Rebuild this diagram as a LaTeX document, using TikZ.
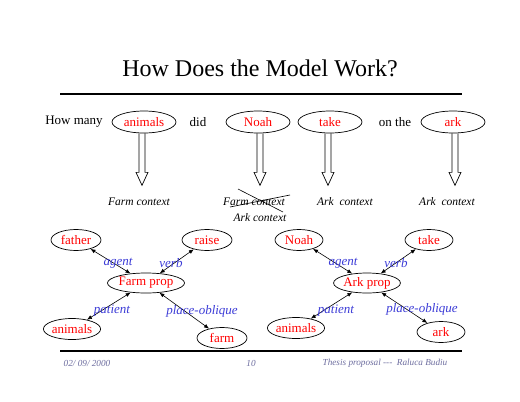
\documentclass[tikz,border=0pt]{standalone}
\usepackage{fontspec}
\setmainfont{Liberation Serif}
\usepackage{xcolor}
\usetikzlibrary{shapes.geometric,arrows.meta,calc,positioning}
\definecolor{myred}{HTML}{FF0000}
\definecolor{myblue}{RGB}{60,60,215}
\definecolor{footgray}{RGB}{110,110,160}
\tikzset{
  word/.style={ellipse,draw,line width=0.7pt,inner sep=0pt,text=myred,minimum width=64pt,minimum height=22pt,font=\fontsize{13}{15}\selectfont},
  prop/.style={ellipse,draw,line width=0.7pt,inner sep=0pt,text=myred,minimum width=50pt,minimum height=21pt,font=\fontsize{13}{15}\selectfont},
  ctx/.style={font=\fontsize{11.5}{13}\selectfont\itshape},
  role/.style={text=myblue,font=\fontsize{13}{15}\selectfont\itshape},
  link/.style={{Latex[length=5pt,width=4pt]}-{Latex[length=5pt,width=4pt]},line width=0.6pt},
  foot/.style={text=footgray,font=\fontsize{9.2}{11}\selectfont\itshape}
}
\begin{document}
\begin{tikzpicture}[x=1pt,y=-1pt]
	\useasboundingbox[fill=white] (0,0) rectangle (520,402);
	%% title and rule
	\node (title) at (260,68) {\fontsize{24}{28}\selectfont How Does the Model Work?};
	\draw[line width=1.6pt] (60,94) -- (462,94);
	%% the sentence
	\node[font=\fontsize{13}{15}\selectfont] (howmany) at (74,122) {How many};
	\node[word] (animals) at (144,122) {animals};
	\node[font=\fontsize{13}{15}\selectfont] (did) at (198,122) {did};
	\node[word] (noah) at (258,122) {Noah};
	\node[word] (take) at (330,122) {take};
	\node[font=\fontsize{13}{15}\selectfont] (onthe) at (395,122) {on the};
	\node[word] (ark) at (453,122) {ark};
	%% hollow arrows down to the contexts
	\foreach \w/\dx in {animals/-2,noah/2,take/-2,ark/2}
		\draw[line width=0.7pt] ($(\w.south)+(\dx-3,0)$) -- ++(0,39) -- ++(-3,0) -- ++(6,13) -- ++(6,-13) -- ++(-3,0) -- ++(0,-39);
	\node[ctx] (farmctx) at (139,202) {Farm context};
	\node[ctx] (farmcross) at (254,202) {Farm context};
	\node[ctx] (arkctx) at (260,218) {Ark context};
	\node[ctx] (arkctx2) at (345,202) {Ark\ \ context};
	\node[ctx] (arkctx3) at (447,202) {Ark\ \ context};
	%% crossing out
	\draw[line width=0.6pt] ($(farmcross.center)+(-16,-13)$) -- ($(farmcross.center)+(29,10)$);
	\draw[line width=0.6pt] ($(farmcross.center)+(-24,5)$) -- ($(farmcross.center)+(36,-7)$);
	%% Farm prop
	\node[prop,minimum width=54pt,minimum height=20pt] (farmprop) at (146,283) {Farm prop};
	\node[prop] (father) at (76,240) {father};
	\node[prop] (raise) at (207,240) {raise};
	\node[prop] (animalsA) at (72,329) {animals};
	\node[prop] (farm) at (222,338) {farm};
	\draw[link] (father) -- (farmprop);
	\draw[link] (raise) -- (farmprop);
	\draw[link] (animalsA) -- (farmprop);
	\draw[link] (farm) -- (farmprop);
	\node[role] (agentA) at (118,263) {agent};
	\node[role] (verbA) at (171,263) {verb};
	\node[role] (patientA) at (112,311) {patient};
	\node[role] (placeA) at (202,311) {place-oblique};
	%% Ark prop
	\node[prop,minimum width=48pt,minimum height=20pt] (arkprop) at (367,283) {Ark prop};
	\node[prop,minimum width=48pt] (noahB) at (299,240) {Noah};
	\node[prop,minimum width=48pt] (takeB) at (429,240) {take};
	\node[prop,minimum width=48pt] (animalsB) at (296,328) {animals};
	\node[prop,minimum width=48pt] (arkB) at (441,332) {ark};
	\draw[link] (noahB) -- (arkprop);
	\draw[link] (takeB) -- (arkprop);
	\draw[link] (animalsB) -- (arkprop);
	\draw[link] (arkB) -- (arkprop);
	\node[role] (agentB) at (343,263) {agent};
	\node[role] (verbB) at (396,263) {verb};
	\node[role] (patientB) at (336,311) {patient};
	\node[role] (placeB) at (422,309) {place-oblique};
	%% footer
	\draw[line width=1.6pt] (60,351) -- (462,351);
	\node[foot] (date) at (87,363) {02/ 09/ 2000};
	\node[foot] (page) at (251,363) {10};
	\node[foot] (thesis) at (385,363) {Thesis proposal -\kern0pt-\kern0pt-\ \ Raluca Budiu};
\end{tikzpicture}
\end{document}
